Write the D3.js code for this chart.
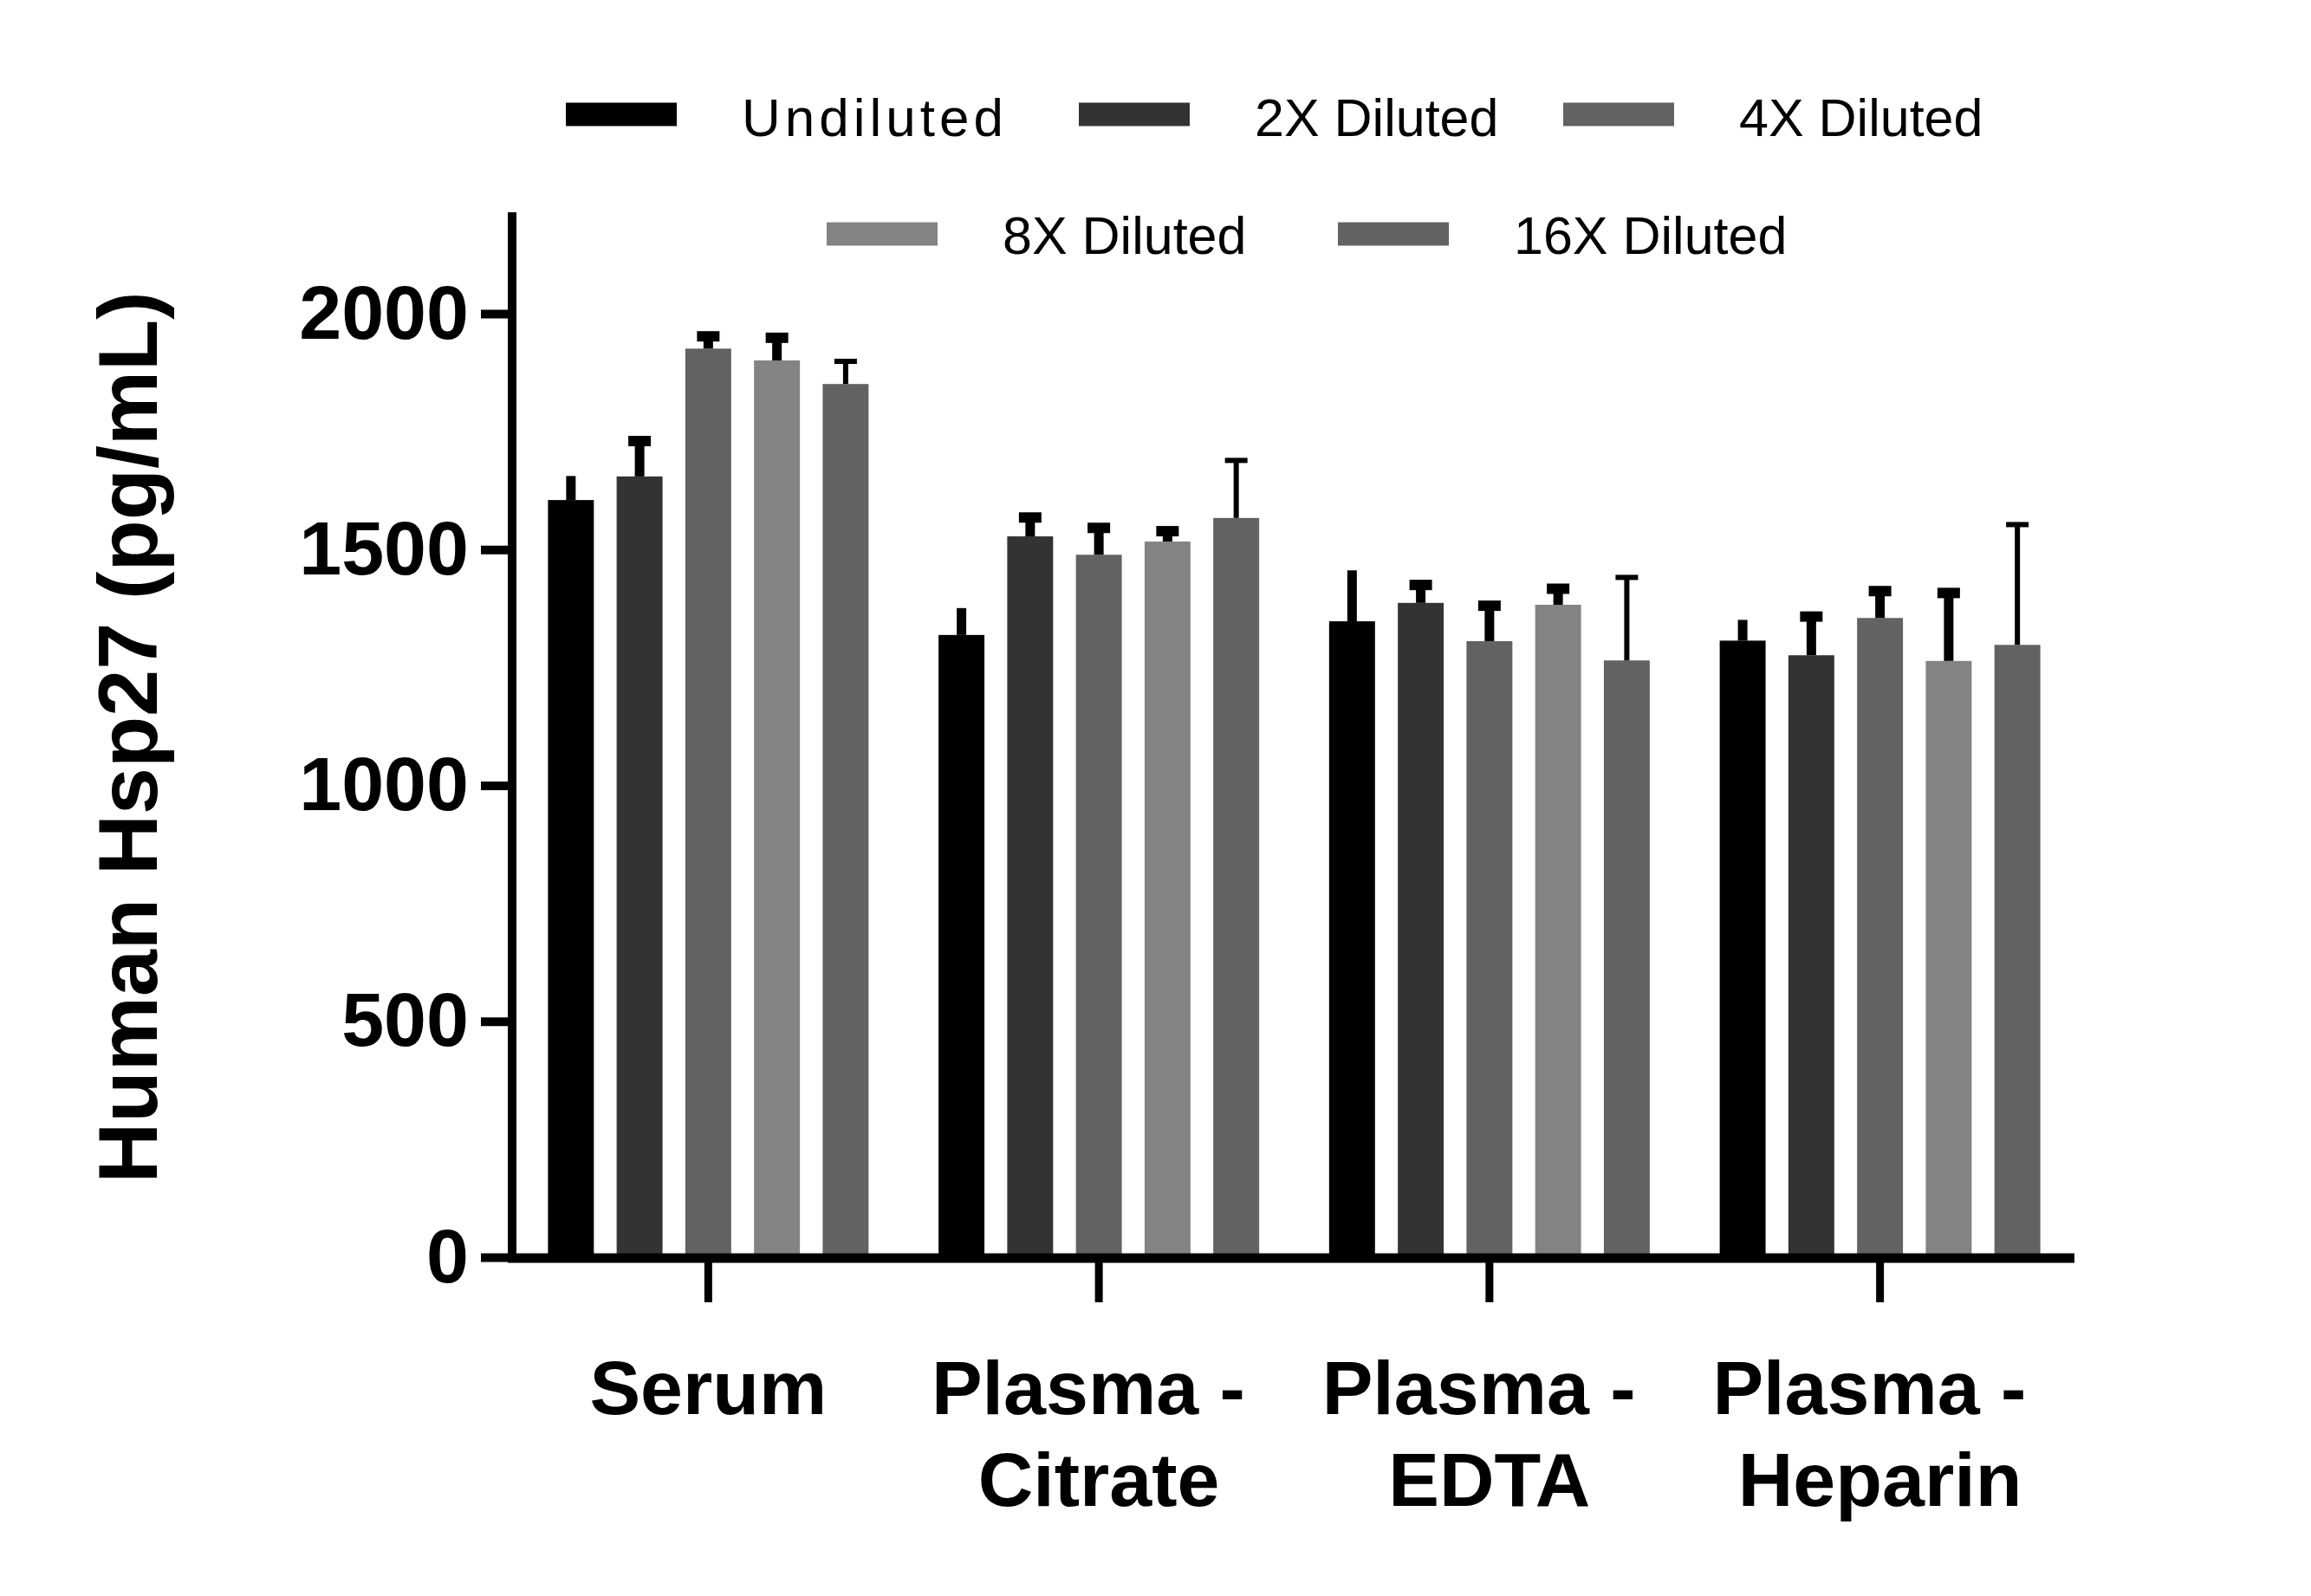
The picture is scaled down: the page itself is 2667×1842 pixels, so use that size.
<!DOCTYPE html>
<html>
<head>
<meta charset="utf-8">
<script src="https://cdn.jsdelivr.net/npm/d3@7"></script>
<style>
  body { margin: 0; background: #fff; }
  text { font-family: "Liberation Sans", Arial, sans-serif; fill: #000; }
</style>
</head>
<body>
<div id="chart"></div>
<script>
// data
const categories = ['Serum', 'Plasma - Citrate', 'Plasma - EDTA', 'Plasma - Heparin'];
const categoryLines = [['Serum'], ['Plasma - ', 'Citrate'], ['Plasma - ', 'EDTA'], ['Plasma - ', 'Heparin']];
const series = ['Undiluted', '2X Diluted', '4X Diluted', '8X Diluted', '16X Diluted'];

// mean values, one array per sample type (order = series)
const serumMeans = [1605, 1655, 1926, 1901, 1851];
const citrateMeans = [1319, 1528, 1489, 1517, 1567];
const edtaMeans = [1348, 1387, 1306, 1383, 1265];
const heparinMeans = [1307, 1276, 1355, 1264, 1298];

// upper error (SD)
const serumErr = [51, 75, 26, 48, 48];
const citrateErr = [57, 40, 57, 22, 122];
const edtaErr = [108, 38, 75, 34, 176];
const heparinErr = [44, 82, 57, 144, 255];

const yTicks = [0, 500, 1000, 1500, 2000];

const means = [serumMeans, citrateMeans, edtaMeans, heparinMeans];
const errs = [serumErr, citrateErr, edtaErr, heparinErr];

const colors = ['#000000', '#333333', '#626262', '#838383', '#626262'];

const dimensions = { width: 2667, height: 1842 };

const svg = d3.select('#chart')
  .append('svg')
  .attr('width', dimensions.width)
  .attr('height', dimensions.height);

const x0 = d3.scaleBand()
  .domain(categories)
  .range([592, 2395])
  .padding(0);

const x1 = d3.scaleBand()
  .domain(series)
  .range([-185, 185])
  .paddingInner(0.332)
  .paddingOuter(0);

const y = d3.scaleLinear()
  .domain([0, 2215])
  .range([1451, 245]);

const color = d3.scaleOrdinal().domain(series).range(colors);

// flat table for the bars
const rows = [];
categories.forEach((c, ci) => {
  series.forEach((s, si) => {
    rows.push({ cat: c, ser: s, si, mean: means[ci][si], err: errs[ci][si] });
  });
});

const cx = (d) => x0(d.cat) + x0.bandwidth() / 2 + x1(d.ser);

// bars
svg.append('g')
  .selectAll('rect')
  .data(rows)
  .join('rect')
  .attr('x', (d) => cx(d))
  .attr('width', x1.bandwidth())
  .attr('y', (d) => y(d.mean))
  .attr('height', (d) => y(0) - y(d.mean))
  .attr('fill', (d) => color(d.ser));

// error bars: undiluted has no cap, 16X drawn thin
const errStyle = (si) => {
  if (si === 0) return { stem: 11, cap: 0, capH: 0 };
  if (si === 4) return { stem: 6, cap: 26, capH: 6 };
  return { stem: 11, cap: 26, capH: 12 };
};

const eg = svg.append('g');
rows.forEach((d) => {
  const st = errStyle(d.si);
  const mid = cx(d) + x1.bandwidth() / 2;
  const top = y(d.mean + d.err);
  eg.append('line')
    .attr('x1', mid).attr('x2', mid)
    .attr('y1', y(d.mean)).attr('y2', top)
    .attr('stroke', '#000')
    .attr('stroke-width', st.stem);
  if (st.cap) {
    eg.append('line')
      .attr('x1', mid - st.cap / 2).attr('x2', mid + st.cap / 2)
      .attr('y1', top).attr('y2', top)
      .attr('stroke', '#000')
      .attr('stroke-width', st.capH);
  }
});

// y axis
const yAxis = svg.append('g')
  .attr('transform', 'translate(591,0)')
  .call(d3.axisLeft(y).tickValues(yTicks).tickFormat(d3.format('d'))
    .tickSize(36).tickSizeOuter(0).tickPadding(14));
yAxis.select('.domain').remove();
yAxis.selectAll('.tick line').attr('stroke', '#000').attr('stroke-width', 10);
yAxis.selectAll('.tick text')
  .attr('font-size', 88)
  .attr('font-weight', 'bold')
  .attr('font-family', '"Liberation Sans", Arial, sans-serif');

svg.append('line')
  .attr('x1', 591).attr('x2', 591)
  .attr('y1', y.range()[1]).attr('y2', y(0) + 6)
  .attr('stroke', '#000').attr('stroke-width', 10);

// x axis
const xAxis = svg.append('g')
  .attr('transform', `translate(0,${y(0)})`)
  .call(d3.axisBottom(x0).tickSize(52).tickSizeOuter(0).tickFormat(''));
xAxis.select('.domain').remove();
xAxis.selectAll('.tick line').attr('stroke', '#000').attr('stroke-width', 9);

svg.append('line')
  .attr('x1', 586).attr('x2', 2394)
  .attr('y1', y(0) + 1).attr('y2', y(0) + 1)
  .attr('stroke', '#000').attr('stroke-width', 11);

// category labels
svg.append('g')
  .selectAll('text')
  .data(categories)
  .join('text')
  .attr('x', (c) => x0(c) + x0.bandwidth() / 2)
  .attr('y', 1632)
  .attr('text-anchor', 'middle')
  .attr('font-size', 88)
  .attr('font-weight', 'bold')
  .style('white-space', 'pre')
  .selectAll('tspan')
  .data((c) => categoryLines[categories.indexOf(c)])
  .join('tspan')
  .attr('x', function () { return d3.select(this.parentNode).attr('x'); })
  .attr('dy', (_, i) => (i === 0 ? 0 : 106))
  .text((t) => t);

// y title
svg.append('text')
  .attr('transform', 'translate(181,851) rotate(-90)')
  .attr('text-anchor', 'middle')
  .attr('font-size', 97)
  .attr('font-weight', 'bold')
  .text('Human Hsp27 (pg/mL)');

// legend, two centred rows
const legendRows = [
  { cy: 132, base: 157, xs: [653, 1245, 1804], items: [0, 1, 2] },
  { cy: 270, base: 293, xs: [954, 1544], items: [3, 4] },
];
const lg = svg.append('g');
legendRows.forEach((r) => {
  r.items.forEach((si, k) => {
    lg.append('rect')
      .attr('x', r.xs[k])
      .attr('y', r.cy - 13.5)
      .attr('width', 128)
      .attr('height', 27)
      .attr('fill', color(series[si]));
    lg.append('text')
      .attr('x', r.xs[k] + 203)
      .attr('y', r.base)
      .attr('font-size', si === 0 ? 62 : 61)
      .attr('letter-spacing', si === 0 ? 5 : 0)
      .text(series[si]);
  });
});
</script>
</body>
</html>
